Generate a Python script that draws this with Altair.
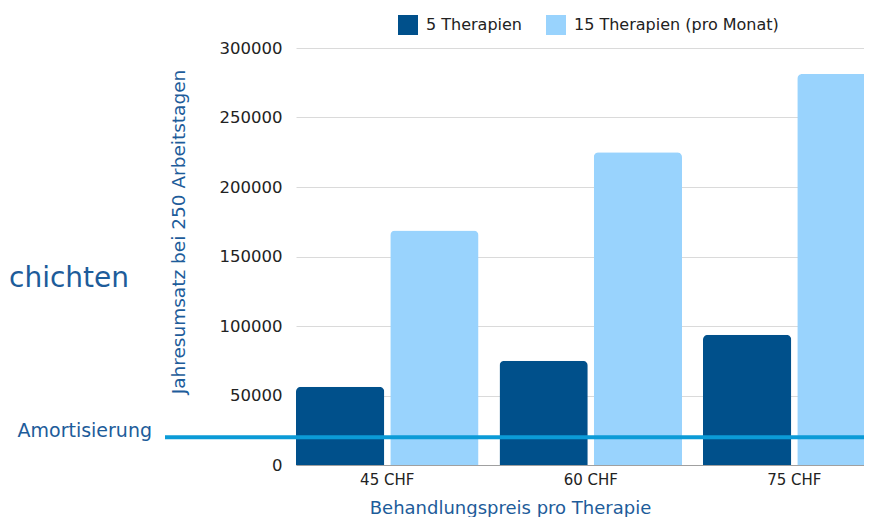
import altair as alt
import pandas as pd

prices = ["45 CHF", "60 CHF", "75 CHF"]
series = ["5 Therapien", "15 Therapien (pro Monat)"]
rev_5 = [56250, 75000, 93750]
rev_15 = [168750, 225000, 281250]
break_even = 20000
y_ticks = [0, 50000, 100000, 150000, 200000, 250000, 300000]
side_text = "chichten"
break_label = "Amortisierung"

rows = []
for p, a, b in zip(prices, rev_5, rev_15):
    rows.append({"Preis": p, "Serie": series[0], "Umsatz": a})
    rows.append({"Preis": p, "Serie": series[1], "Umsatz": b})
df = pd.DataFrame(rows)

W, H = 589.5, 417
dark, light = "#00508b", "#99d3fd"
line_col = "#0b9bd7"
blue_text = "#1d5c9a"
font = "DejaVu Sans"

bars = alt.Chart(df).mark_bar(
    cornerRadiusTopLeft=5, cornerRadiusTopRight=5
).encode(
    x=alt.X(
        "Preis:N", sort=prices,
        scale=alt.Scale(paddingInner=0.1032, paddingOuter=0),
        axis=alt.Axis(
            title="Behandlungspreis pro Therapie", labelAngle=0, domain=True,
            domainColor="#a0a0a0", ticks=False, labelPadding=7, labelFontSize=15,
            labelColor="#222222", labelFont=font, grid=False,
            titleX=214, titleY=48, titleBaseline="alphabetic", titleAlign="center",
            titleFontSize=18, titleFontWeight="normal", titleColor=blue_text, titleFont=font,
        ),
    ),
    xOffset=alt.XOffset("Serie:N", sort=series,
                        scale=alt.Scale(paddingInner=0.0637, paddingOuter=0)),
    y=alt.Y(
        "Umsatz:Q", scale=alt.Scale(domain=[0, 300000]),
        axis=alt.Axis(
            values=y_ticks, format="d", domain=False, ticks=False, labelPadding=14,
            grid=True, gridColor="#dadada", labelFontSize=16.5, labelColor="#222222",
            labelFont=font, title="Jahresumsatz bei 250 Arbeitstagen",
            titleX=-112, titleY=183.5, titleAngle=270, titleBaseline="alphabetic",
            titleAlign="center", titleFontSize=18.5, titleFontWeight="normal",
            titleColor=blue_text, titleFont=font,
        ),
    ),
    color=alt.Color(
        "Serie:N", sort=series,
        scale=alt.Scale(domain=series, range=[dark, light]),
        legend=alt.Legend(
            title=None, orient="none", legendX=102, legendY=-33, direction="horizontal",
            symbolType="square", symbolSize=400, symbolStrokeWidth=0,
            labelFontSize=16, labelFont=font, labelColor="#222222", labelLimit=400,
            labelOffset=8, columnPadding=24, padding=0,
        ),
    ),
)

ann = pd.DataFrame({"v": [break_even]})

rule = alt.Chart(ann).mark_rule(strokeWidth=4, color=line_col).encode(
    y=alt.Y("v:Q"),
    x=alt.value(-131),
    x2=alt.value(W),
)

amort = alt.Chart(ann).mark_text(
    text=break_label, align="right", baseline="alphabetic",
    fontSize=19, font=font, color=blue_text,
).encode(
    y=alt.Y("v:Q"),
    x=alt.value(-144),
)

side = alt.Chart(ann).mark_text(
    text=side_text, align="left", baseline="alphabetic",
    fontSize=28, font=font, color=blue_text,
).encode(
    x=alt.value(-287),
    y=alt.value(239),
)

chart = alt.layer(bars, rule, amort, side).properties(
    width=W, height=H,
    padding={"left": 288, "top": 40, "right": -21.5, "bottom": 52},
    autosize=alt.AutoSizeParams(type="none"),
    background="white",
).configure_view(stroke=None)

chart.save("out.html", embed_options={"renderer": "svg", "actions": False})
